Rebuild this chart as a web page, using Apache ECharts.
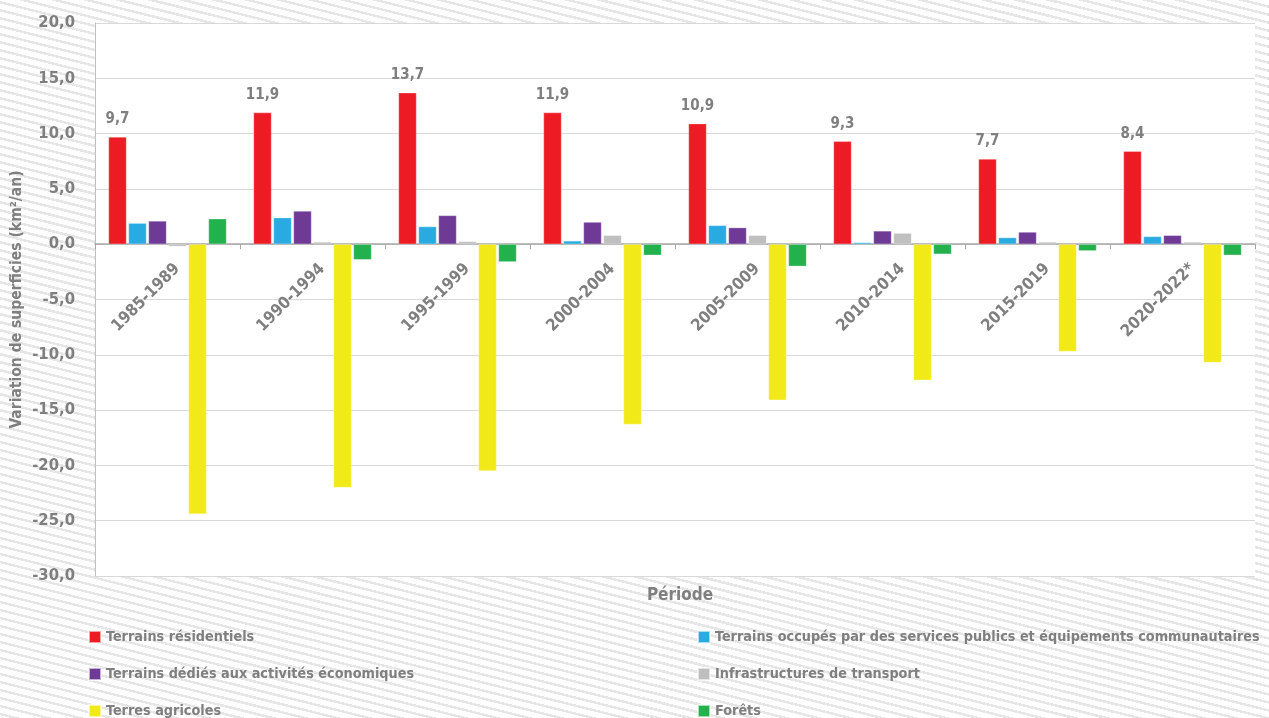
<!DOCTYPE html>
<html><head><meta charset="utf-8">
<script src="https://cdn.jsdelivr.net/npm/echarts@6/dist/echarts.min.js"></script>
<style>
html,body{margin:0;padding:0;background:#fff}
#c{width:1269px;height:718px;
 background: repeating-linear-gradient(194deg, #ffffff 0px, #ffffff 5.3px, #e6e6e6 5.3px, #e6e6e6 7.76px);}
</style>
</head><body><div id="c"></div>
<script>
const categories = ['1985-1989','1990-1994','1995-1999','2000-2004','2005-2009','2010-2014','2015-2019','2020-2022*'];
const residentiels = [9.7, 11.9, 13.7, 11.9, 10.9, 9.3, 7.7, 8.4];
const servicesPublics = [1.9, 2.4, 1.6, 0.3, 1.7, 0.15, 0.6, 0.7];
const activitesEco = [2.1, 3.0, 2.6, 2.0, 1.5, 1.2, 1.1, 0.8];
const transport = [-0.2, 0.2, 0.25, 0.8, 0.8, 1.0, 0.2, 0.2];
const agricoles = [-24.4, -22.0, -20.5, -16.3, -14.1, -12.3, -9.7, -10.7];
const forets = [2.3, -1.4, -1.6, -1.0, -2.0, -0.9, -0.6, -1.0];
const yTicks = {min: -30, max: 20, step: 5};

const FONT = "'Liberation Sans Narrow','DejaVu Sans Condensed','Roboto Condensed','Liberation Sans',sans-serif";
const GREY = '#7f7f7f';
const fmt = v => Number(v).toFixed(1).replace('.', ',');

const names = ['Terrains résidentiels','Terrains occupés par des services publics et équipements communautaires','Terrains dédiés aux activités économiques','Infrastructures de transport','Terres agricoles','Forêts'];
const colors = ['#ed1c24','#29abe2','#6f3996','#bfbfbf','#f2e918','#22b14c'];
const dataSets = [residentiels, servicesPublics, activitesEco, transport, agricoles, forets];

// legend layout: [left, top] per item
const legendPos = [[88,630],[697,630],[88,667],[697,667],[88,704],[697,704]];

const chart = echarts.init(document.getElementById('c'));
const option = {
  backgroundColor: 'transparent',
  textStyle: {fontFamily: FONT},
  animation: false,
  color: colors,
  title: {text: 'Période', left: 675, top: 582, textAlign: 'center',
    textStyle: {fontFamily: FONT, fontWeight: 'bold', fontSize: 17, color: GREY}},
  grid: {left: 95, right: 14, top: 23, bottom: 142, show: true, backgroundColor: '#ffffff', borderWidth: 0,
    containLabel: false, outerBoundsMode: 'none'},
  legend: names.map((n, i) => ({
    orient: 'horizontal', left: legendPos[i][0], top: legendPos[i][1], itemWidth: 12, itemHeight: 12,
    data: [n], icon: 'rect', padding: 0,
    textStyle: {fontFamily: FONT, fontWeight: 'bold', fontSize: 14.3, color: GREY, padding: [0,0,0,0]}
  })),
  xAxis: {
    type: 'category', data: categories,
    axisLine: {onZero: false, lineStyle: {color: '#a6a6a6', width: 1.5}},
    axisTick: {show: true, length: 5, lineStyle: {color: '#a6a6a6'}},
    axisLabel: {rotate: 45, margin: 32, padding: [0, -14, 0, 0], fontFamily: FONT, fontWeight: 'bold', fontSize: 16.5, color: GREY},
    splitLine: {show: false}
  },
  yAxis: {
    type: 'value', min: yTicks.min, max: yTicks.max, interval: yTicks.step,
    name: 'Variation de superficies (km²/an)', nameLocation: 'middle', nameGap: 70, nameMoveOverlap: false,
    nameTextStyle: {fontFamily: FONT, fontWeight: 'bold', fontSize: 15.5, color: GREY},
    axisLine: {show: true, lineStyle: {color: '#bfbfbf'}},
    axisTick: {show: false},
    axisLabel: {formatter: fmt, fontFamily: FONT, fontWeight: 'bold', fontSize: 16.5, color: GREY, margin: 20},
    splitLine: {lineStyle: {color: '#d9d9d9'}}
  },
  series: dataSets.map((d, i) => ({
    name: names[i], type: 'bar', data: d,
    barCategoryGap: '18.6%', barGap: '11%',
    itemStyle: {color: colors[i], borderColor: 'rgba(255,255,255,0.6)', borderWidth: 0.5},
    label: i === 0 ? {show: true, position: 'top', distance: 10, formatter: p => fmt(p.value),
      fontFamily: FONT, fontWeight: 'bold', fontSize: 15, color: GREY} : {show: false}
  }))
};
chart.setOption(option);
// move the category axis (line, ticks, labels) to the zero line
const zeroY = chart.convertToPixel({yAxisIndex: 0}, 0);
const bottomY = chart.convertToPixel({yAxisIndex: 0}, yTicks.min);
chart.setOption({xAxis: {offset: -(bottomY - zeroY)}});
</script></body></html>
